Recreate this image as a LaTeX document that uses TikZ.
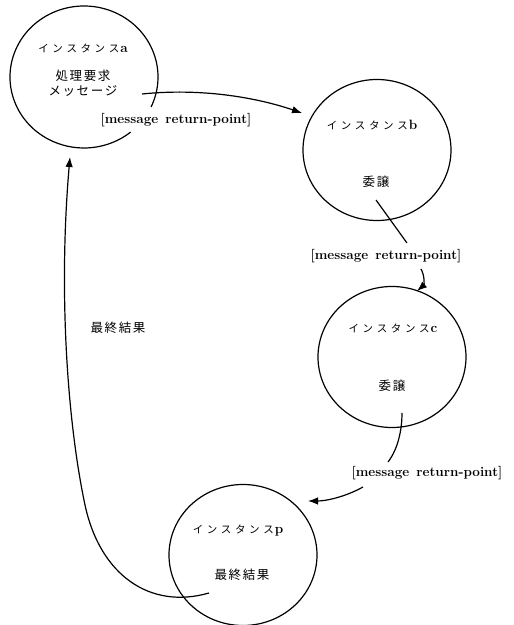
\documentclass[tikz,border=0pt]{standalone}
\usepackage{fontspec}
\newfontfamily\jp{Noto Sans CJK JP}
\usetikzlibrary{shapes.geometric,arrows.meta}
\newcommand\ks{\hspace{3.6pt}}
\newcommand\kk{\hspace{1.6pt}}
\newcommand\inst[1]{{\jp\fontsize{10.5}{12}\selectfont イ\ks ン\ks ス\ks タ\ks ン\ks ス}\hspace{1pt}{\fontsize{13.5}{15}\selectfont\bfseries #1}}
\tikzset{
  circ/.style={ellipse, minimum width=148pt, minimum height=141pt, inner sep=0pt, line width=1.2pt},
  kanji/.style={font=\jp\fontsize{12.5}{14}\selectfont, inner sep=1pt},
  title/.style={inner sep=1pt},
  mrp/.style={font=\fontsize{13.5}{15}\selectfont\bfseries, inner sep=1pt},
  conn/.style={line width=1.2pt},
  arr/.style={line width=1.2pt, -{Latex[length=10pt,width=7.5pt]}}
}
\begin{document}
\begin{tikzpicture}[x=1pt,y=1pt]
\useasboundingbox[fill=white] (0,0) rectangle (514,625);
% circles
\node[circ] (A) at (84,548) {};
\draw[conn] (A.center) ++(-25:74 and 71) arc[start angle=-25, end angle=309, x radius=74, y radius=71];
\node[circ,draw] (B) at (377,475) {};
\node[circ,draw] (C) at (392,268) {};
\node[circ,draw] (P) at (243,70) {};
% texts
\node[title] (at) at (83,577) {\inst{a}};
\node[kanji] (req) at (83,549) {処\kk 理\kk 要\kk 求};
\node[kanji] (msg) at (83,534) {メ\kk ッ\kk セ\kk ー\kk ジ};
\node[mrp] (l1) at (176,505) {[message\hspace{2pt} return-point]};
\node[title] (bt) at (372,500) {\inst{b}};
\node[kanji] (bd) at (376,443) {委\kk 譲};
\node[mrp] (l2) at (386,369) {[message\hspace{2pt} return-point]};
\node[title] (ct) at (393,297) {\inst{c}};
\node[kanji] (cd) at (392,239) {委\kk 譲};
\node[mrp] (l3) at (427,152) {[message\hspace{2pt} return-point]};
\node[title] (pt) at (238,94) {\inst{p}};
\node[kanji] (pr) at (242,50) {最\kk 終\kk 結\kk 果};
\node[kanji] (fr) at (118,297) {最\kk 終\kk 結\kk 果};
% connector points
\coordinate (s1) at (142,531);
\coordinate (t1) at (302,512);
\coordinate (s2) at (376,425);
\coordinate (e2) at (407,382);
\coordinate (s3) at (421,356);
\coordinate (t3) at (417,334);
\coordinate (s4) at (402,212);
\coordinate (e4) at (388,163);
\coordinate (s5) at (363,138);
\coordinate (t5) at (308,124);
\coordinate (s6) at (209,32);
\coordinate (m6) at (85,120);
\coordinate (t6) at (70,468);
% connectors
\draw[arr] (s1) .. controls (200,537) and (255,528) .. (t1);
\draw[conn] (s2) -- (e2);
\draw[arr] (s3) .. controls (425,349) and (424,340) .. (t3);
\draw[conn] (s4) .. controls (402,195) and (398,176) .. (e4);
\draw[arr] (s5) .. controls (345,128) and (326,124) .. (t5);
\draw[arr] (s6) .. controls (150,15) and (100,50) .. (m6) .. controls (68,200) and (58,330) .. (t6);
\end{tikzpicture}
\end{document}
